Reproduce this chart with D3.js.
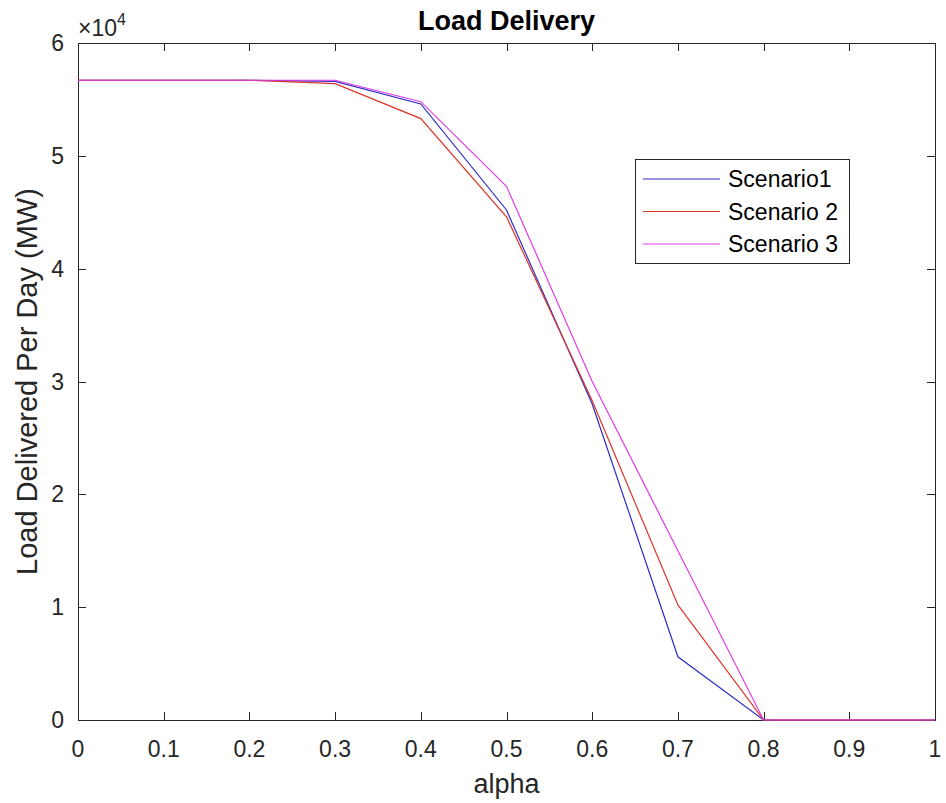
<!DOCTYPE html>
<html><head><meta charset="utf-8">
<script src="https://cdn.jsdelivr.net/npm/d3@7"></script>
<style>body{margin:0;background:#fff}svg{display:block}text{font-family:"Liberation Sans",Arial,sans-serif}</style>
</head><body>
<script>
const alpha = [0,0.1,0.2,0.3,0.4,0.5,0.6,0.7,0.8,0.9,1];
const scenario1 = [5.67,5.67,5.67,5.66,5.46,4.52,2.80,0.56,0,0,0];
const scenario2 = [5.67,5.67,5.67,5.64,5.33,4.46,2.83,1.02,0,0,0];
const scenario3 = [5.67,5.67,5.67,5.67,5.48,4.73,3.00,1.50,0,0,0];
const seriesNames = ["Scenario1","Scenario 2","Scenario 3"];
const seriesColors = ["#2e2ec4","#dc3428","#e03ce4"];
const xTicks = [0,0.1,0.2,0.3,0.4,0.5,0.6,0.7,0.8,0.9,1];
const yTicks = [0,1,2,3,4,5,6];

const W=946,H=803;
const m={l:78,r:935,t:43,b:720};
const svg=d3.select("body").append("svg").attr("width",W).attr("height",H);
const x=d3.scaleLinear().domain([0,1]).range([m.l,m.r]);
const y=d3.scaleLinear().domain([0,6]).range([m.b,m.t]);
const ink="#262626";

const g=svg.append("g");
g.append("rect").attr("x",m.l+0.5).attr("y",m.t+0.5).attr("width",m.r-m.l).attr("height",m.b-m.t)
 .attr("fill","none").attr("stroke",ink).attr("stroke-width",1);
const tl=8;
xTicks.forEach(v=>{
  const px=Math.round(x(v))+0.5;
  g.append("line").attr("x1",px).attr("x2",px).attr("y1",m.b).attr("y2",m.b-tl).attr("stroke",ink);
  g.append("line").attr("x1",px).attr("x2",px).attr("y1",m.t).attr("y2",m.t+tl).attr("stroke",ink);
  g.append("text").attr("x",x(v)).attr("y",m.b+37).attr("text-anchor","middle").attr("font-size",23).attr("fill",ink).text(d3.format("")(v));
});
yTicks.forEach(v=>{
  const py=Math.round(y(v))+0.5;
  g.append("line").attr("x1",m.l).attr("x2",m.l+tl).attr("y1",py).attr("y2",py).attr("stroke",ink);
  g.append("line").attr("x1",m.r).attr("x2",m.r-tl).attr("y1",py).attr("y2",py).attr("stroke",ink);
  g.append("text").attr("x",m.l-14).attr("y",y(v)+8).attr("text-anchor","end").attr("font-size",23).attr("fill",ink).text(v);
});
const ex=g.append("text").attr("x",m.l).attr("y",m.t-7).attr("font-size",23).attr("fill",ink);
ex.append("tspan").text("\u00d710");
ex.append("tspan").attr("font-size",16).attr("dy",-11).text("4");

const line=d3.line().x((d,i)=>x(alpha[i])).y(d=>y(d));
[scenario1,scenario2,scenario3].forEach((s,i)=>{
  g.append("path").datum(s).attr("d",line).attr("fill","none").attr("stroke",seriesColors[i]).attr("stroke-width",1.2);
});

svg.append("text").attr("x",(m.l+m.r)/2).attr("y",30).attr("text-anchor","middle").attr("font-size",27).attr("font-weight","bold").attr("fill","#000").text("Load Delivery");
svg.append("text").attr("x",(m.l+m.r)/2).attr("y",793).attr("text-anchor","middle").attr("font-size",27).attr("fill",ink).text("alpha");
svg.append("text").attr("transform",`translate(37,${(m.t+m.b)/2}) rotate(-90)`).attr("text-anchor","middle").attr("font-size",29).attr("fill",ink).text("Load Delivered Per Day (MW)");

const lg=svg.append("g");
lg.append("rect").attr("x",635.5).attr("y",159.5).attr("width",214).attr("height",104).attr("fill","#fff").attr("stroke",ink);
seriesNames.forEach((n,i)=>{
  const yy=179+i*32.5;
  lg.append("line").attr("x1",643).attr("x2",720).attr("y1",yy).attr("y2",yy).attr("stroke",seriesColors[i]).attr("stroke-width",1.2);
  lg.append("text").attr("x",728).attr("y",yy+8).attr("font-size",23).attr("fill","#000").text(n);
});
</script>
</body></html>
